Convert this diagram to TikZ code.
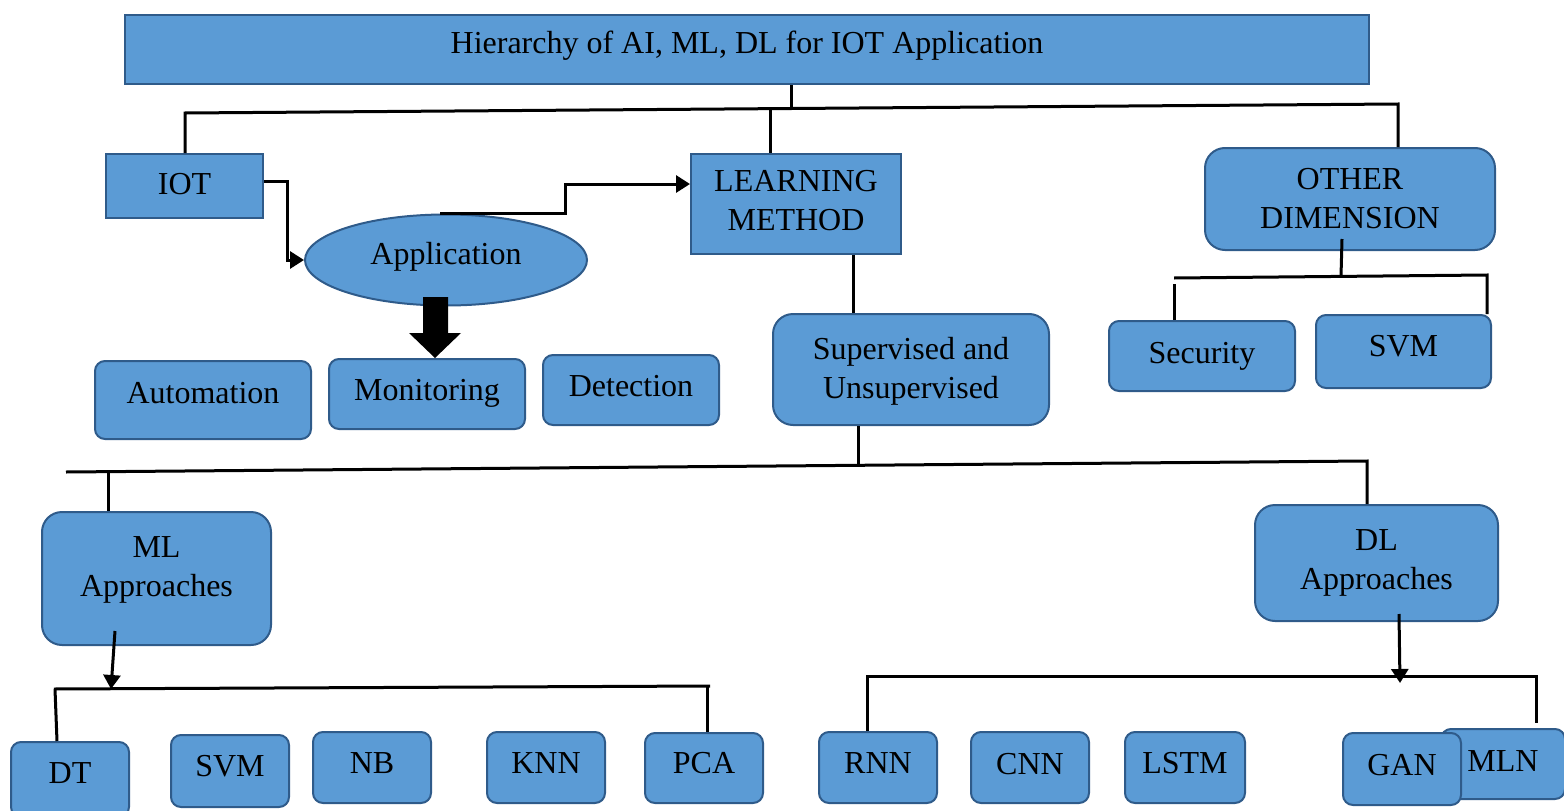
\documentclass[tikz,border=0pt]{standalone}
\usepackage{fontspec}
\setmainfont{Liberation Serif}
\usetikzlibrary{arrows.meta,shapes.geometric,calc}
\definecolor{boxfill}{HTML}{5B9BD5}
\definecolor{boxline}{HTML}{2F5B8A}
% raise text visually without changing the box used for centring
\newcommand\tx[2]{\raisebox{#1pt}[\height][\depth]{#2}}
\newcommand\tl[2]{\raisebox{#1pt}[\height][\depth]{\begin{tabular}{@{}c@{}}#2\end{tabular}}}
\begin{document}
\begin{tikzpicture}[x=1pt,y=-1pt,
  sqbox/.style={draw=boxline, line width=2pt, fill=boxfill, inner sep=0pt, anchor=north west,
    align=center, font=\fontsize{32}{39}\selectfont},
  rbox/.style={sqbox, rounded corners=10pt},
  bigbox/.style={sqbox, rounded corners=20pt},
  conn/.style={line width=3pt, black},
  arr/.style={conn, -{Triangle[length=14pt,width=17pt]}}]
\useasboundingbox (0,0) rectangle (1564,811);
% top row
\node[sqbox, minimum width=1244, minimum height=69] (title) at (124,14) {\tx{4}{Hierarchy of AI, ML, DL for IOT Application}};
\node[sqbox, minimum width=157, minimum height=64] (iot) at (105,153) {\tx{2}{IOT}};
\node[sqbox, minimum width=210, minimum height=100] (lm) at (690,153) {\tl{1}{LEARNING\\METHOD}};
\node[bigbox, minimum width=290, minimum height=102] (od) at (1204,147) {\tl{-2}{OTHER\\DIMENSION}};
\node[draw=boxline, line width=2pt, fill=boxfill, ellipse, inner sep=0pt, minimum width=282, minimum height=91,
  font=\fontsize{32}{39}\selectfont] (app) at (446,260) {\tx{3}{Application}};
% application children
\node[rbox, minimum width=216, minimum height=78] (auto) at (94,360) {\tx{7}{Automation}};
\node[rbox, minimum width=196, minimum height=70] (mon) at (328,358) {\tx{1}{Monitoring}};
\node[rbox, minimum width=176, minimum height=70] (det) at (542,354) {\tx{4}{Detection}};
\node[bigbox, minimum width=276, minimum height=111] (sup) at (772,313) {\tl{-2}{Supervised and\\Unsupervised}};
\node[rbox, minimum width=186, minimum height=70] (sec) at (1108,320) {\tx{0}{Security}};
\node[rbox, minimum width=175, minimum height=73] (svmo) at (1315,314) {\tx{5}{SVM}};
% approaches
\node[bigbox, minimum width=229, minimum height=133] (ml) at (41,511) {\tl{9}{ML\\Approaches}};
\node[bigbox, minimum width=243, minimum height=116] (dl) at (1254,504) {\tl{1}{DL\\Approaches}};
% bottom row
\node[rbox, minimum width=118, minimum height=75] (dt) at (10,741) {\tx{6}{DT}};
\node[rbox, minimum width=118, minimum height=72] (svm) at (170,734) {\tx{5}{SVM}};
\node[rbox, minimum width=118, minimum height=71] (nb) at (312,731) {\tx{4}{NB}};
\node[rbox, minimum width=118, minimum height=71] (knn) at (486,731) {\tx{4}{KNN}};
\node[rbox, minimum width=118, minimum height=70] (pca) at (644,732) {\tx{5}{PCA}};
\node[rbox, minimum width=118, minimum height=71] (rnn) at (818,731) {\tx{4}{RNN}};
\node[rbox, minimum width=118, minimum height=71] (cnn) at (970,731) {\tx{3}{CNN}};
\node[rbox, minimum width=120, minimum height=71] (lstm) at (1124,731) {\tx{4}{LSTM}};
\node[rbox, minimum width=124, minimum height=70] (mln) at (1440,728) {\tx{3}{MLN}};
\node[rbox, minimum width=118, minimum height=72] (gan) at (1342,732) {\tx{4}{GAN}};
% top bus
\coordinate (bL) at (185,113);
\coordinate (bR) at (1398,104);
\draw[conn] (iot.north -| bL) -- (bL) -- (bR) -- (od.north -| bR);
\draw[conn] (title.south -| 791,0) -- (791,108.5);
\draw[conn] (770,108.7) -- (lm.north -| 770,0);
% IOT -> Application -> Learning method
\draw[arr] ([yshift=5pt]iot.east) -- ++(23,0) |- (app.west);
\draw[arr] ([xshift=-6pt]app.north) -- ++(125,0) |- ([yshift=20pt]lm.west);
% block arrow Application -> Monitoring
\fill[black] (423,297) -- (448,297) -- (448,333) -- (461,333) -- (mon.north -| 435,0) -- (409,333) -- (423,333) -- cycle;
% learning method -> supervised
\draw[conn] (lm.south -| 853,0) -- (sup.north -| 853,0);
% other dimension bus
\coordinate (oL) at (1174,278);
\coordinate (oR) at (1487,275);
\draw[conn] ($(od.south)+(-8,-12)$) -- (1341,276.5);
\draw[conn] (oL) -- (oR) -- (svmo.north -| oR);
\draw[conn] (1174,284) -- (sec.north -| 1174,0);
% second bus
\coordinate (cL) at (66,472);
\coordinate (cR) at (1367,461);
\draw[conn] (cL) -- (cR) -- (dl.north -| cR);
\draw[conn] (sup.south -| 858,0) -- (858,465.3);
\draw[conn] (108,471.6) -- (ml.north -| 108,0);
% ML bus
\coordinate (mL) at (54,689);
\coordinate (mR) at (710,686);
\draw[arr] ($(ml.south)+(-41.5,-15)$) -- (111,689);
\draw[conn] (mL) -- (mR);
\draw[conn] (55,689) -- (dt.north -| 57,0);
\draw[conn] (707,686) -- (pca.north -| 707,0);
% DL bus
\coordinate (dL) at (866,676);
\coordinate (dR) at (1536,676);
\draw[arr] ($(dl.south)+(22.5,-8)$) -- (1400,683);
\draw[conn] (dL) -- (dR) -- (1536,723);
\draw[conn] (867,676) -- (rnn.north -| 867,0);
\end{tikzpicture}
\end{document}
